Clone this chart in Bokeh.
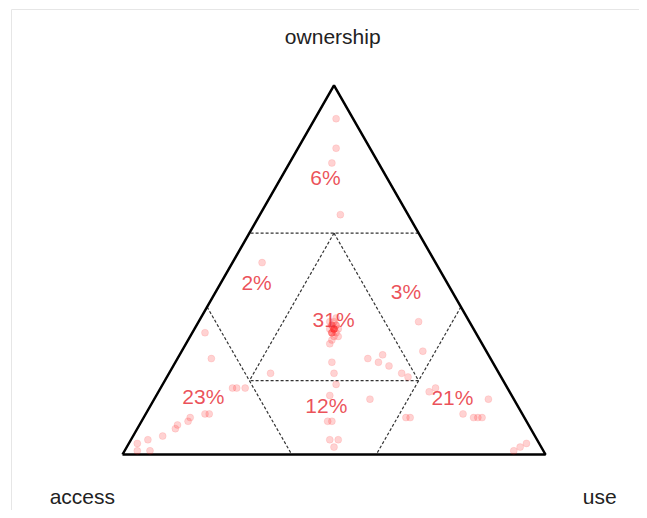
import math
from bokeh.plotting import figure
from bokeh.models import Range1d, ColumnDataSource
from bokeh.core.properties import value
from bokeh.embed import file_html
from bokeh.resources import INLINE

# ---- data (ternary compositions: ownership, access, use) ----
ownership = [0.91, 0.83, 0.79, 0.65, 0.52, 0.36, 0.33, 0.26,
             0.34, 0.35, 0.36, 0.33, 0.32, 0.35, 0.34, 0.33, 0.34, 0.35, 0.33, 0.34,
             0.37, 0.31, 0.32, 0.36, 0.34, 0.34, 0.33, 0.35,
             0.30, 0.25, 0.22, 0.22, 0.26, 0.25, 0.27, 0.24, 0.22, 0.21, 0.28,
             0.18, 0.18, 0.18, 0.19, 0.16, 0.15, 0.17, 0.18, 0.15, 0.11, 0.10,
             0.10, 0.10, 0.10, 0.10, 0.09, 0.09, 0.04, 0.04, 0.02, 0.11, 0.11,
             0.10, 0.09, 0.08, 0.07, 0.05, 0.04, 0.03, 0.01, 0.01, 0.01, 0.02, 0.03]
access = [0.04, 0.08, 0.11, 0.16, 0.41, 0.12, 0.64, 0.66,
          0.33, 0.33, 0.32, 0.34, 0.34, 0.32, 0.32, 0.33, 0.34, 0.33, 0.34, 0.33,
          0.31, 0.35, 0.33, 0.33, 0.33, 0.33, 0.34, 0.32,
          0.36, 0.38, 0.39, 0.54, 0.29, 0.27, 0.25, 0.25, 0.23, 0.22, 0.15,
          0.65, 0.64, 0.62, 0.40, 0.43, 0.34, 0.19, 0.17, 0.06, 0.14, 0.12,
          0.11, 0.10, 0.28, 0.27, 0.47, 0.46, 0.49, 0.47, 0.49, 0.74, 0.75,
          0.79, 0.80, 0.83, 0.84, 0.88, 0.92, 0.95, 0.96, 0.93, 0.07, 0.05, 0.03]
use = [round(1 - o - a, 2) for o, a in zip(ownership, access)]

region_labels = ["6%", "2%", "3%", "31%", "23%", "12%", "21%"]
axis_names = ["ownership", "access", "use"]
grid_levels = [0.2, 0.6]

# ---- ternary projection: access (0,0), use (1,0), ownership (0.5, h) ----
H = math.sqrt(3) / 2

def proj(o, a, u):
    return u + o / 2.0, o * H

pts = [proj(o, a, u) for o, a, u in zip(ownership, access, use)]
src = ColumnDataSource(dict(x=[p[0] for p in pts], y=[p[1] for p in pts]))

p = figure(width=639, height=510, output_backend="svg", toolbar_location=None,
           x_range=Range1d(-0.28842, 1.22222), y_range=Range1d(-0.13142, 1.06548),
           min_border=0)
p.axis.visible = False
p.grid.visible = False
p.outline_line_color = None
p.background_fill_color = "white"
p.border_fill_color = "white"

# faint frame of the original panel
p.quad(left=-0.2624, right=1.5, top=1.0443, bottom=-0.5,
       fill_color=None, line_color="#e6e6e6", line_width=1)

# dashed subdivisions
lo, hi = grid_levels
segs = [
    ((hi, 0, 1 - hi), (hi, 1 - hi, 0)),          # ownership = 0.6
    ((lo, lo, 1 - 2 * lo), (lo, 1 - 2 * lo, lo)), # ownership = 0.2 (inner)
    ((1 - hi, hi, 0), (0, hi, 1 - hi)),          # access = 0.6
    ((hi, lo, lo), (lo, lo, hi)),                # access = 0.2 (inner)
    ((1 - hi, 0, hi), (0, 1 - hi, hi)),          # use = 0.6
    ((hi, lo, lo), (lo, hi, lo)),                # use = 0.2 (inner)
]
xs, ys = [], []
for a_, b_ in segs:
    pa, pb = proj(*a_), proj(*b_)
    xs.append([pa[0], pb[0]])
    ys.append([pa[1], pb[1]])
p.multi_line(xs, ys, line_color="#333333", line_width=1.2, line_dash="3 2")

# triangle outline
tri = [proj(0, 1, 0), proj(0, 0, 1), proj(1, 0, 0), proj(0, 1, 0)]
p.line([t[0] for t in tri], [t[1] for t in tri], line_color="black", line_width=2.5)

# points
p.scatter("x", "y", source=src, size=7, fill_color="#ff2020", fill_alpha=0.2,
          line_color="#ff2020", line_alpha=0.1)

# region percentages
lab_x = [0.480, 0.317, 0.670, 0.499, 0.191, 0.482, 0.780]
lab_y = [0.650, 0.404, 0.383, 0.318, 0.136, 0.116, 0.134]
p.text(lab_x, lab_y, text=region_labels, text_font=value("Liberation Sans"),
       text_font_size="21px", text_color="#e8333c", text_alpha=0.85,
       text_align="center", text_baseline="middle")

# vertex names
p.text([0.497, -0.095, 1.128], [0.982, -0.0995, -0.0995], text=axis_names,
       text_font=value("Liberation Sans"), text_font_size="21px",
       text_color="#222222", text_align="center", text_baseline="middle")

open("out.html", "w").write(file_html(p, INLINE))
